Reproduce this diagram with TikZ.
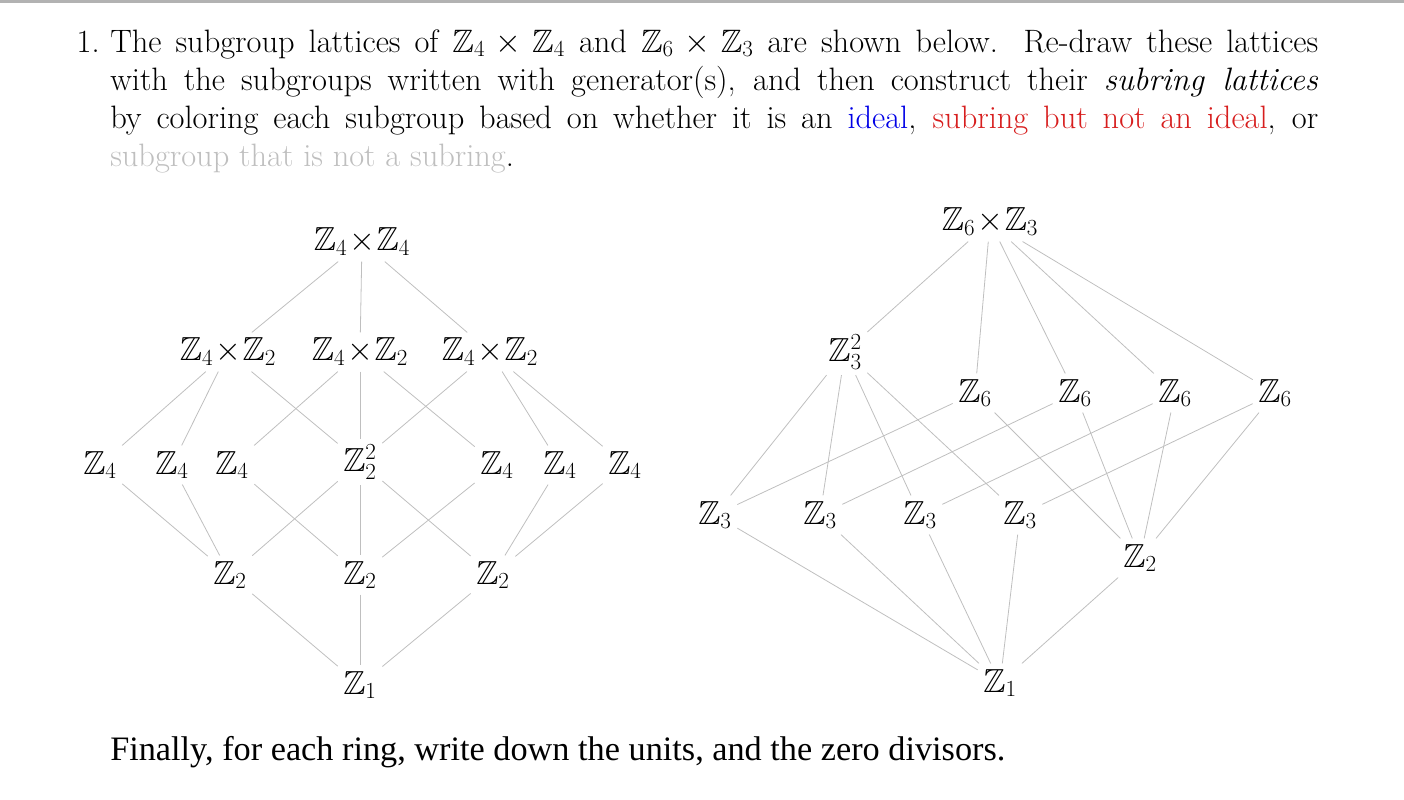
\documentclass[tikz,border=0pt]{standalone}
\usepackage{amssymb}
\usepackage{fontspec}
\newfontfamily\tms{Liberation Serif}
\definecolor{lg}{gray}{0.75}
\definecolor{idealblue}{RGB}{0,0,230}
\definecolor{subred}{RGB}{215,30,30}
\begin{document}
\begin{tikzpicture}[x=0.75pt,y=-0.75pt,
  v/.style={inner sep=4pt,font=\fontsize{25}{28}\selectfont},
  e/.style={draw=lg,line width=0.6pt}]
\useasboundingbox (0,0) rectangle (1404,800);
\fill[gray!60] (0,0) rectangle (1404,3);
\node[anchor=north west,inner sep=0pt,text width=906pt,align=justify,font=\fontsize{24.3}{28.7}\selectfont] (txt) at (110,29)
{\llap{1.\hspace{8pt}}The subgroup lattices of $\mathbb{Z}_4\times\mathbb{Z}_4$ and $\mathbb{Z}_6\times\mathbb{Z}_3$ are shown below. Re-draw these lattices\linebreak with the subgroups written with generator(s), and then construct their \emph{subring lattices}\linebreak by coloring each subgroup based on whether it is an \textcolor{idealblue}{ideal}, \textcolor{subred}{subring but not an ideal}, or\linebreak \textcolor{lg}{subgroup that is not a subring}.};
\node[anchor=west,inner sep=0pt,font=\tms\fontsize{25.7}{28}\selectfont] (fin) at (110,752) {Finally, for each ring, write down the units, and the zero divisors.};
% left lattice
\node[v] (T) at (362,242) {$\mathbb{Z}_4\!\times\!\mathbb{Z}_4$};
\node[v] (A1) at (228,352) {$\mathbb{Z}_4\!\times\!\mathbb{Z}_2$};
\node[v] (A2) at (360,352) {$\mathbb{Z}_4\!\times\!\mathbb{Z}_2$};
\node[v] (A3) at (490,352) {$\mathbb{Z}_4\!\times\!\mathbb{Z}_2$};
\node[v] (B1) at (100,465) {$\mathbb{Z}_4$};
\node[v] (B2) at (172,465) {$\mathbb{Z}_4$};
\node[v] (B3) at (232,465) {$\mathbb{Z}_4$};
\node[v] (K) at (360,462) {$\mathbb{Z}_2^2$};
\node[v] (B5) at (497,465) {$\mathbb{Z}_4$};
\node[v] (B6) at (560,465) {$\mathbb{Z}_4$};
\node[v] (B7) at (625,465) {$\mathbb{Z}_4$};
\node[v] (C1) at (230,575) {$\mathbb{Z}_2$};
\node[v] (C2) at (360,575) {$\mathbb{Z}_2$};
\node[v] (C3) at (493,575) {$\mathbb{Z}_2$};
\node[v] (O) at (360,685) {$\mathbb{Z}_1$};
\foreach \a/\b in {T/A1,T/A2,T/A3,A1/B1,A1/B2,A1/K,A2/B3,A2/K,A2/B5,A3/K,A3/B6,A3/B7,
  B1/C1,B2/C1,B3/C2,K/C1,K/C2,K/C3,B5/C2,B6/C3,B7/C3,C1/O,C2/O,C3/O}
  \draw[e] (\a) -- (\b);
% right lattice
\node[v] (RT) at (990,222) {$\mathbb{Z}_6\!\times\!\mathbb{Z}_3$};
\node[v] (R3) at (845,352) {$\mathbb{Z}_3^2$};
\node[v] (S1) at (975,393) {$\mathbb{Z}_6$};
\node[v] (S2) at (1075,393) {$\mathbb{Z}_6$};
\node[v] (S3) at (1175,393) {$\mathbb{Z}_6$};
\node[v] (S4) at (1275,393) {$\mathbb{Z}_6$};
\node[v] (U1) at (715,515) {$\mathbb{Z}_3$};
\node[v] (U2) at (820,515) {$\mathbb{Z}_3$};
\node[v] (U3) at (920,515) {$\mathbb{Z}_3$};
\node[v] (U4) at (1020,515) {$\mathbb{Z}_3$};
\node[v] (W) at (1140,558) {$\mathbb{Z}_2$};
\node[v] (RO) at (1000,683) {$\mathbb{Z}_1$};
\foreach \a/\b in {RT/R3,RT/S1,RT/S2,RT/S3,RT/S4,R3/U1,R3/U2,R3/U3,R3/U4,
  S1/U1,S2/U2,S3/U3,S4/U4,S1/W,S2/W,S3/W,S4/W,U1/RO,U2/RO,U3/RO,U4/RO,W/RO}
  \draw[e] (\a) -- (\b);
\end{tikzpicture}
\end{document}
